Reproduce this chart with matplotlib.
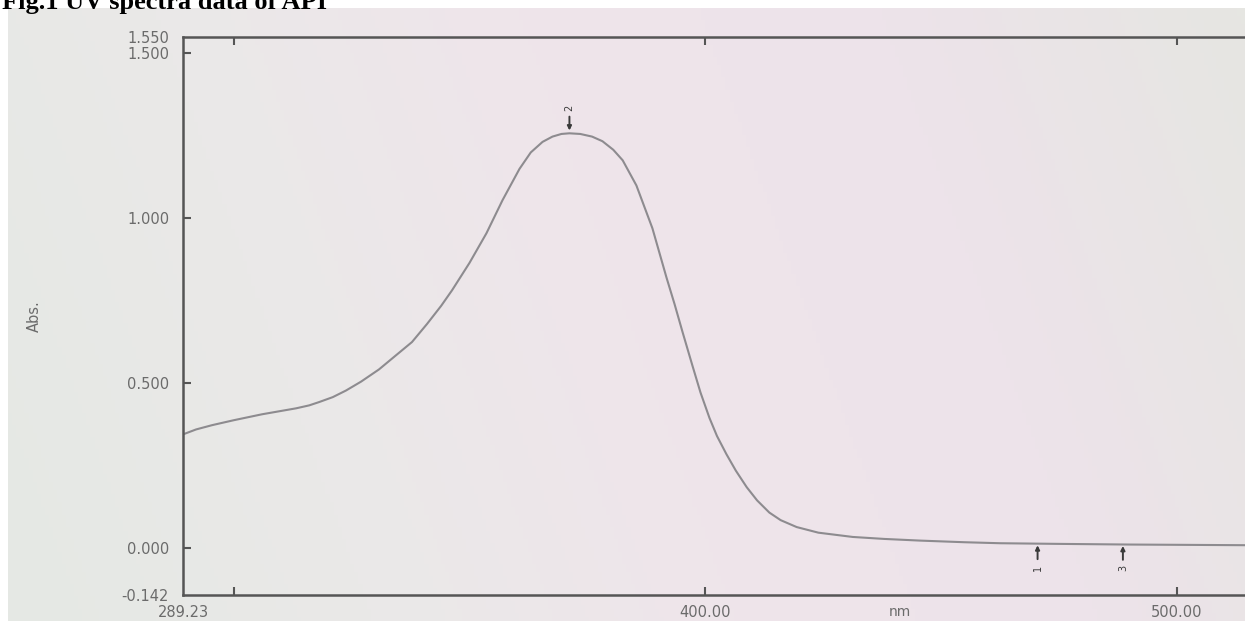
import numpy as np
import matplotlib.pyplot as plt
from matplotlib.colors import LinearSegmentedColormap

# absorbance trace (wavelength in nm)
wavelength = [289.23, 292.0, 295.4, 300.0, 306.0, 310.0, 313.2, 316.0, 318.1,
              321.0, 323.8, 327.0, 330.8, 334.0, 337.8, 341.0, 344.0, 346.3,
              350.0, 353.6, 357.0, 360.6, 363.0, 365.5, 367.6, 369.5, 371.2,
              373.5, 376.0, 378.2, 380.5, 382.5, 385.4, 388.8, 391.8, 393.5,
              395.2, 397.3, 399.0, 400.9, 402.5, 404.5, 406.5, 408.8, 411.0,
              413.6, 416.0, 419.4, 424.0, 431.3, 438.0, 445.5, 455.0, 462.5,
              475.0, 490.0, 514.5]
absorbance = [0.345, 0.360, 0.373, 0.388, 0.406, 0.416, 0.424, 0.433, 0.443,
              0.458, 0.478, 0.505, 0.542, 0.580, 0.625, 0.680, 0.735, 0.782,
              0.865, 0.955, 1.055, 1.150, 1.200, 1.232, 1.248, 1.256, 1.258,
              1.256, 1.248, 1.234, 1.208, 1.176, 1.100, 0.970, 0.820, 0.740,
              0.655, 0.553, 0.472, 0.395, 0.340, 0.285, 0.235, 0.185, 0.145,
              0.108, 0.085, 0.064, 0.047, 0.034, 0.028, 0.023, 0.018, 0.015,
              0.013, 0.011, 0.009]

# peak / valley picks printed on the chart
peak_nm = [371.2]
peak_abs = [1.258]
peak_no = ['2']
valley_nm = [470.5, 488.6]
valley_abs = [0.013, 0.011]
valley_no = ['1', '3']

x_min, x_max = 289.23, 514.5
y_min, y_max = -0.142, 1.550

axis_col = '#555555'
text_col = '#6b6b6b'
tick_font = 'DejaVu Sans'

fig = plt.figure(figsize=(12.45, 6.21), dpi=100)
fig.patch.set_facecolor('white')

# paper background of the photographed sheet
bg = fig.add_axes([8 / 1245, 0, 1 - 8 / 1245, 1 - 8 / 621])
paper = LinearSegmentedColormap.from_list(
    'paper', ['#e5e8e4', '#eae9e8', '#efe5eb', '#ede3ea', '#e6e6e2'])
gx = np.linspace(0, 1, 300)
gy = np.linspace(0, 1, 150)[:, None]
field = gx[None, :] * 0.85 + 0.15 * (1 - gy)
bg.imshow(field, cmap=paper, aspect='auto', extent=[0, 1, 0, 1])
bg.set_axis_off()

ax = fig.add_axes([183 / 1245, 1 - 595 / 621, 1 - 183 / 1245, (595 - 37) / 621])
ax.patch.set_alpha(0)

ax.plot(wavelength, absorbance, color='#8d8b8f', lw=1.5, solid_capstyle='round')

ax.set_xlim(x_min, x_max)
ax.set_ylim(y_min, y_max)

for side in ['left', 'bottom', 'top']:
    ax.spines[side].set_color(axis_col)
    ax.spines[side].set_linewidth(1.8)
ax.spines['right'].set_visible(False)

ax.set_xticks([300, 400, 500])
ax.set_xticklabels(['', '400.00', '500.00'])
ax.set_xticks([x_min], minor=True)
ax.set_xticklabels(['289.23'], minor=True)
ax.set_yticks([0.0, 0.5, 1.0, 1.5])
ax.set_yticklabels(['0.000', '0.500', '1.000', '1.500'])
ax.set_yticks([y_min, y_max], minor=True)
ax.set_yticklabels(['-0.142', '1.550'], minor=True)

ax.tick_params(axis='both', which='major', direction='in', length=6, width=1.5,
               color=axis_col)
ax.tick_params(which='minor', length=0)
ax.tick_params(axis='both', which='both', labelcolor=text_col, labelsize=10.5)
ax.tick_params(axis='x', which='both', top=True, labeltop=False, pad=7)
ax.tick_params(axis='y', which='both', pad=10)
for lbl in ax.get_xticklabels(which='both') + ax.get_yticklabels(which='both'):
    lbl.set_family(tick_font)

ax.set_ylabel('Abs.', color=text_col, fontsize=10.5, family=tick_font)
ax.yaxis.set_label_coords(-0.133, 0.5)
ax.set_xlabel('nm', color=text_col, fontsize=10, family=tick_font, va='bottom')
ax.xaxis.set_label_coords(0.675, -0.043)

# peak marker: arrow pointing down onto the maximum
for xv, yv, lab in zip(peak_nm, peak_abs, peak_no):
    ax.annotate('', xy=(xv, yv), xytext=(0, 12), textcoords='offset points',
                arrowprops=dict(arrowstyle='-|>', color='#3a3a3a', lw=1.4,
                                mutation_scale=6, shrinkA=0, shrinkB=2))
    ax.annotate(lab, xy=(xv, yv), xytext=(0, 18), textcoords='offset points',
                ha='center', va='center', rotation=90, fontsize=7,
                color='#3a3a3a')

# valley markers: arrows pointing up from below the trace
for xv, yv, lab in zip(valley_nm, valley_abs, valley_no):
    ax.annotate('', xy=(xv, yv), xytext=(0, -11), textcoords='offset points',
                arrowprops=dict(arrowstyle='-|>', color='#3a3a3a', lw=1.4,
                                mutation_scale=6, shrinkA=0, shrinkB=1))
    ax.annotate(lab, xy=(xv, yv), xytext=(0, -17), textcoords='offset points',
                ha='center', va='center', rotation=90, fontsize=7,
                color='#3a3a3a')

fig.text(2 / 1245, 1 - 9 / 621, 'Fig.1 UV spectra data of API',
         family='Liberation Serif', fontweight='bold', fontsize=19,
         color='black', ha='left', va='baseline')

fig.savefig('out.png', dpi=100)
